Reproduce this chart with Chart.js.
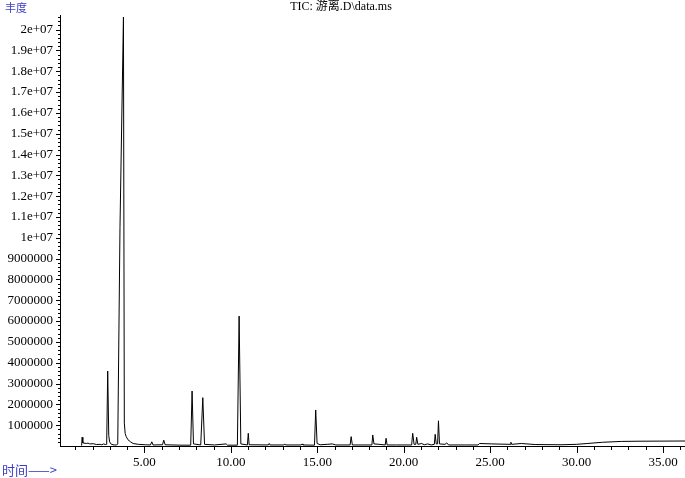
<!DOCTYPE html>
<html><head><meta charset="utf-8">
<script src="https://cdn.jsdelivr.net/npm/chart.js@4.4.1/dist/chart.umd.min.js"></script>
<style>html,body{margin:0;padding:0;background:#fff;}canvas{display:block;}</style>
</head><body>
<canvas id="c" width="685" height="478"></canvas>
<script>
// Retention time (min)
const times = [
  1.37, 1.40, 1.44, 1.64, 1.74, 1.84, 2.04, 2.24, 2.44, 2.54, 2.64, 2.74, 2.82,
  2.88, 2.94, 2.99, 3.09, 3.25, 3.40, 3.46, 3.59, 3.79, 3.84, 3.89, 3.95, 4.05,
  4.20, 4.35, 4.65, 5.05, 5.35, 5.43, 5.50, 6.05, 6.12, 6.20, 7.05, 7.68, 7.76,
  7.84, 8.26, 8.38, 8.48, 9.06, 9.73, 9.81, 10.38, 10.48, 10.58, 10.96, 11.01,
  11.06, 12.17, 12.22, 12.27, 13.07, 13.12, 13.17, 14.07, 14.12, 14.17, 14.84,
  14.91, 14.99, 15.17, 15.57, 15.87, 16.07, 16.90, 16.96, 17.03, 18.16, 18.21,
  18.28, 18.58, 18.93, 18.98, 19.04, 19.58, 20.46, 20.52, 20.60, 20.70, 20.75,
  20.82, 21.04, 21.19, 21.39, 21.59, 21.77, 21.82, 21.88, 21.96, 22.01, 22.07,
  22.39, 22.49, 22.59, 23.59, 24.29, 24.39, 25.10, 26.15, 26.20, 26.25, 26.80,
  27.60, 29.10, 30.01, 30.61, 31.51, 32.61, 33.61, 36.27
];
// Abundance (TIC)
const abundance = [
  20000, 420000, 150000, 120000, 140000, 100000, 110000, 70000, 80000, 60000, 100000, 70000, 80000,
  3600000, 500000, 200000, 80000, 50000, 50000, 100000, 10500000, 20600000, 1100000, 600000, 450000, 300000,
  200000, 120000, 80000, 60000, 50000, 200000, 50000, 60000, 280000, 60000, 40000, 40000, 2640000,
  100000, 50000, 2320000, 80000, 50000, 100000, 40000, 40000, 6240000, 100000, 50000, 610000,
  60000, 50000, 120000, 50000, 50000, 100000, 50000, 50000, 100000, 50000, 40000,
  1730000, 120000, 60000, 80000, 100000, 50000, 50000, 450000, 50000, 50000, 530000,
  100000, 80000, 50000, 370000, 50000, 50000, 50000, 610000, 80000, 80000, 420000,
  80000, 120000, 60000, 100000, 50000, 80000, 560000, 100000, 100000, 1210000, 100000,
  80000, 150000, 50000, 50000, 50000, 120000, 100000, 80000, 180000, 80000, 120000,
  70000, 60000, 80000, 120000, 180000, 220000, 230000, 240000
];
const xTickValues = [5, 10, 15, 20, 25, 30, 35];
const xTickLabels = ['5.00', '10.00', '15.00', '20.00', '25.00', '30.00', '35.00'];
const yTickValues = [1000000, 2000000, 3000000, 4000000, 5000000, 6000000, 7000000, 8000000, 9000000,
  10000000, 11000000, 12000000, 13000000, 14000000, 15000000, 16000000, 17000000, 18000000, 19000000, 20000000];
const yTickLabels = ['1000000', '2000000', '3000000', '4000000', '5000000', '6000000', '7000000', '8000000', '9000000',
  '1e+07', '1.1e+07', '1.2e+07', '1.3e+07', '1.4e+07', '1.5e+07', '1.6e+07', '1.7e+07', '1.8e+07', '1.9e+07', '2e+07'];
const titleText = 'TIC: 游离.D\\data.ms';
const yAxisTitle = '丰度';
const xAxisTitle = '时间——>';

const decor = {
  id: 'decor',
  afterDraw(chart) {
    const ctx = chart.ctx, xs = chart.scales.x, ys = chart.scales.y, a = chart.chartArea;
    ctx.save();
    ctx.strokeStyle = '#000';
    ctx.lineWidth = 1;
    ctx.beginPath();
    for (let t = 1; t <= Math.floor(xs.max); t++) {
      const px = Math.round(xs.getPixelForValue(t)) + 0.5;
      const len = t % 5 === 0 ? 7 : 4;
      ctx.moveTo(px, a.bottom);
      ctx.lineTo(px, a.bottom + len);
    }
    for (let k = 1; k * 200000 <= ys.max; k++) {
      const py = Math.round(ys.getPixelForValue(k * 200000)) + 0.5;
      const len = k % 5 === 0 ? 4 : 2;
      ctx.moveTo(a.left - len, py);
      ctx.lineTo(a.left, py);
    }
    ctx.stroke();
    ctx.fillStyle = '#000';
    ctx.font = '12px "Liberation Serif", "Noto Sans CJK SC", serif';
    ctx.textAlign = 'center';
    ctx.textBaseline = 'middle';
    ctx.fillText(titleText, 341, 7);
    ctx.fillStyle = '#3c3cc8';
    ctx.textAlign = 'left';
    ctx.font = '11px "Noto Sans CJK SC", sans-serif';
    ctx.fillText(yAxisTitle, 5, 8);
    ctx.font = '13px "Noto Sans CJK SC", sans-serif';
    ctx.fillText(xAxisTitle, 2, 470);
    ctx.restore();
  }
};

new Chart(document.getElementById('c'), {
  type: 'line',
  data: {
    datasets: [{
      data: times.map((t, i) => ({ x: t, y: abundance[i] })),
      borderColor: '#000',
      borderWidth: 1,
      pointRadius: 0,
      tension: 0,
      fill: false
    }]
  },
  options: {
    responsive: false,
    animation: false,
    devicePixelRatio: 1,
    layout: { padding: { top: 15, right: 0, left: 0, bottom: 0 } },
    plugins: { legend: { display: false }, tooltip: { enabled: false }, title: { display: false } },
    scales: {
      x: {
        type: 'linear',
        min: 0.12,
        max: 36.27,
        afterBuildTicks: s => { s.ticks = xTickValues.map(v => ({ value: v })); },
        afterFit: s => { s.height = 32; s.paddingLeft = 0; s.paddingRight = 0; },
        grid: { display: false, drawTicks: false },
        border: { display: true, color: '#000', width: 1 },
        ticks: {
          color: '#000',
          padding: 9,
          maxRotation: 0,
          autoSkip: false,
          font: { family: '"Liberation Serif", serif', size: 13 },
          callback: v => xTickLabels[xTickValues.indexOf(v)]
        }
      },
      y: {
        type: 'linear',
        min: 0,
        max: 20700000,
        afterBuildTicks: s => { s.ticks = yTickValues.map(v => ({ value: v })); },
        afterFit: s => { s.width = 60; s.paddingTop = 0; s.paddingBottom = 0; },
        grid: { display: false, drawTicks: false },
        border: { display: true, color: '#000', width: 1 },
        ticks: {
          color: '#000',
          padding: 7,
          autoSkip: false,
          font: { family: '"Liberation Serif", serif', size: 13 },
          callback: v => yTickLabels[yTickValues.indexOf(v)]
        }
      }
    }
  },
  plugins: [decor]
});
</script>
</body></html>
